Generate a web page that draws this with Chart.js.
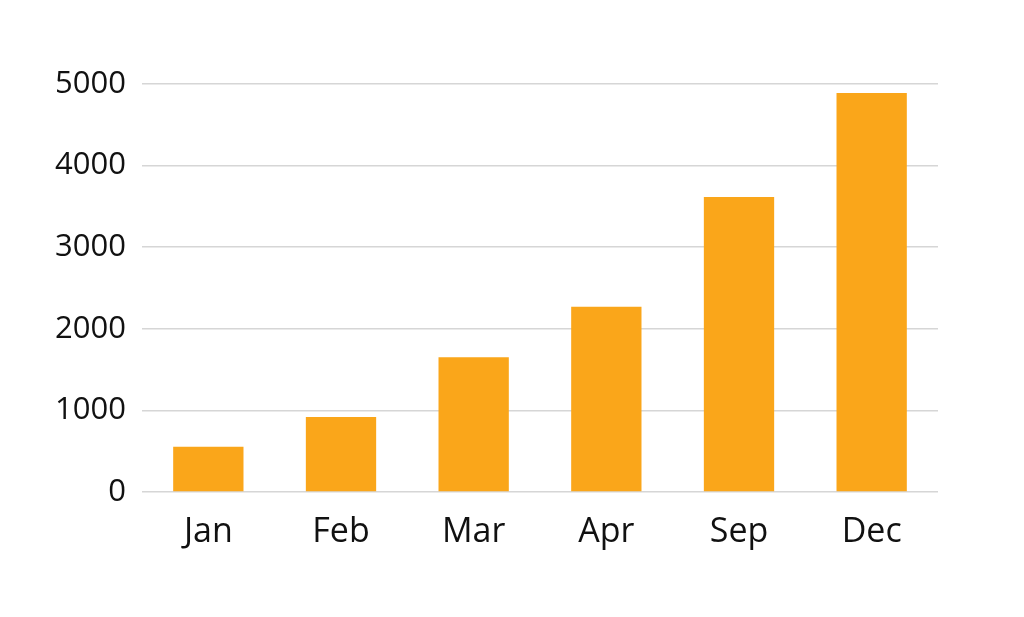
<!DOCTYPE html>
<html>
<head>
<meta charset="utf-8">
<script src="https://cdn.jsdelivr.net/npm/chart.js@4/dist/chart.umd.min.js"></script>
<style>
    html, body { margin: 0; padding: 0; background: #fff; }
    #wrap { width: 1024px; height: 617px; }
</style>
</head>
<body>
<div id="wrap"><canvas id="salesChart"></canvas></div>
<script>
const months = ['Jan', 'Feb', 'Mar', 'Apr', 'Sep', 'Dec'];
const values = [555, 920, 1650, 2270, 3615, 4890];
const yTicks = [0, 1000, 2000, 3000, 4000, 5000];

const ctx = document.getElementById('salesChart').getContext('2d');

new Chart(ctx, {
    type: 'bar',
    data: {
        labels: months,
        datasets: [{
            data: values,
            backgroundColor: '#faa61a',
            borderWidth: 0,
            barPercentage: 0.53,
            categoryPercentage: 1
        }]
    },
    options: {
        responsive: true,
        maintainAspectRatio: false,
        animation: false,
        layout: {
            padding: { top: 84, right: 86, bottom: 0, left: 0 }
        },
        plugins: {
            legend: { display: false },
            tooltip: { enabled: false }
        },
        scales: {
            x: {
                grid: { display: false },
                border: { display: false },
                ticks: {
                    color: '#111',
                    padding: 12,
                    font: { family: 'Open Sans', size: 34 }
                },
                afterFit: scale => { scale.height = 125; }
            },
            y: {
                min: 0,
                max: 5000,
                afterBuildTicks: scale => {
                    scale.ticks = yTicks.map(v => ({ value: v }));
                },
                grid: {
                    color: '#d6d6d6',
                    lineWidth: 1.5,
                    drawTicks: false
                },
                border: { display: false },
                ticks: {
                    color: '#111',
                    padding: 16,
                    font: { family: 'Open Sans', size: 31 },
                    callback: value => String(value)
                },
                afterFit: scale => { scale.width = 142; }
            }
        }
    }
});
</script>
</body>
</html>
